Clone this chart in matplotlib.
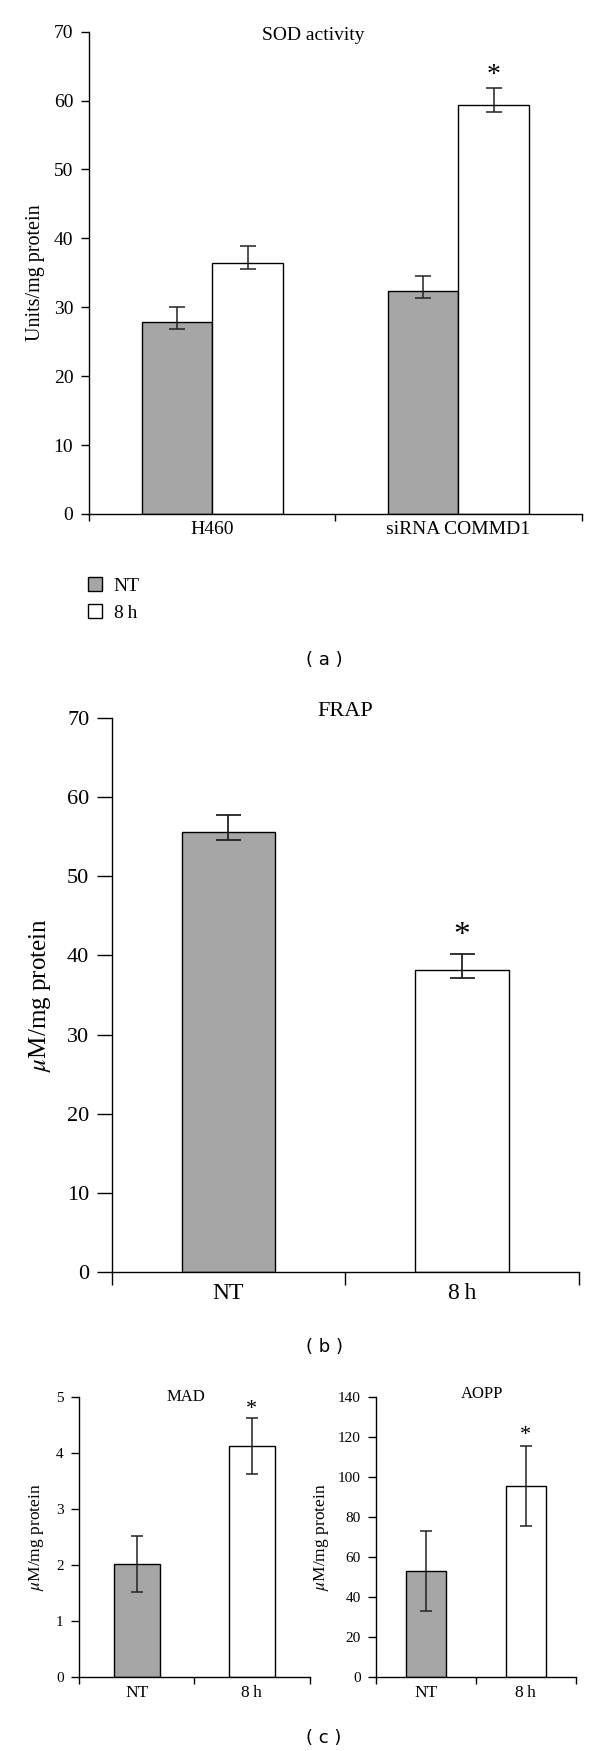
import matplotlib
matplotlib.use("Agg")
import matplotlib.pyplot as plt
import numpy as np

# ---------------- data ----------------
sod_groups = ["H460", "siRNA COMMD1"]
sod_nt = [27.9, 32.4]
sod_nt_lo = [1.0, 1.0]
sod_nt_hi = [2.1, 2.1]
sod_8h = [36.4, 59.3]
sod_8h_lo = [0.9, 1.0]
sod_8h_hi = [2.5, 2.5]

frap_labels = ["NT", "8\u2009h"]
frap_vals = [55.6, 38.1]
frap_lo = [1.0, 1.0]
frap_hi = [2.1, 2.1]

mad_labels = ["NT", "8\u2009h"]
mad_vals = [2.01, 4.12]
mad_err = [0.5, 0.5]

aopp_labels = ["NT", "8\u2009h"]
aopp_vals = [53.2, 95.5]
aopp_err = [20.0, 20.0]

legend_labels = ["NT", "8\u2009h"]

# ---------------- style ----------------
W, H = 600, 1751
DPI = 100
GRAY = "#a6a6a6"
SERIF = ["Liberation Serif", "DejaVu Serif"]
plt.rcParams["font.family"] = SERIF
plt.rcParams["mathtext.fontset"] = "stix"
plt.rcParams["axes.linewidth"] = 1.0

fig = plt.figure(figsize=(W / DPI, H / DPI), dpi=DPI)


def px_axes(left, top, right, bottom):
    return fig.add_axes([left / W, 1 - bottom / H, (right - left) / W, (bottom - top) / H])


def style_axes(ax, ylim, yticks, tick_fs, ylen, xlen, ypad, xpad, cats, xlab_fs):
    ax.set_xlim(-0.5, len(cats) - 0.5)
    ax.set_ylim(*ylim)
    ax.set_yticks(yticks)
    for s in ("top", "right"):
        ax.spines[s].set_visible(False)
    ax.tick_params(axis="y", direction="out", length=ylen, width=1.0,
                   labelsize=tick_fs, pad=ypad)
    ax.set_xticks(np.arange(len(cats) + 1) - 0.5)
    ax.set_xticklabels([])
    ax.tick_params(axis="x", which="major", direction="out", length=xlen, width=1.0)
    ax.set_xticks(np.arange(len(cats)), minor=True)
    ax.set_xticklabels(cats, minor=True)
    ax.tick_params(axis="x", which="minor", length=0, labelsize=xlab_fs, pad=xpad)


def star(ax, x, y, fs, off):
    ax.annotate("*", (x, y), xytext=(0, off), textcoords="offset points",
                ha="center", va="center", fontsize=fs)


# ---------------- panel (a) SOD ----------------
axa = px_axes(89.3, 31.6, 581.5, 514)
xa = np.arange(len(sod_groups))
bw = 0.286
ekw = dict(elinewidth=1.1, capthick=1.1, ecolor="#222222")
b1 = axa.bar(xa - bw / 2, sod_nt, bw, color=GRAY, edgecolor="black", linewidth=1.0,
             yerr=[sod_nt_lo, sod_nt_hi], capsize=6, error_kw=ekw, label=legend_labels[0])
b2 = axa.bar(xa + bw / 2, sod_8h, bw, color="white", edgecolor="black", linewidth=1.0,
             yerr=[sod_8h_lo, sod_8h_hi], capsize=6, error_kw=ekw, label=legend_labels[1])
style_axes(axa, (0, 70), np.arange(0, 71, 10), 14, 6, 5, 5.5, 5, sod_groups, 14)
axa.set_ylabel("Units/mg protein", fontsize=14.5, labelpad=6)
fig.text(313.5 / W, 1 - 36 / H, "SOD activity", ha="center", va="center", fontsize=14)
star(axa, xa[1] + bw / 2, sod_8h[1] + sod_8h_hi[1], 20, 9)

fig.legend(handles=[b1, b2], labels=legend_labels, loc="upper left",
           bbox_to_anchor=(88 / W, 1 - 577 / H), frameon=False, fontsize=14,
           handlelength=0.72, handleheight=0.72, handletextpad=0.6,
           labelspacing=0.5, borderpad=0, borderaxespad=0)

SANS = ["DejaVu Sans"]
fig.text(324 / W, 1 - 660 / H, "( a )", ha="center", va="center", fontsize=13, family=SANS)

# ---------------- panel (b) FRAP ----------------
axb = px_axes(111.5, 718, 579, 1272)
xb = np.arange(len(frap_labels))
axb.bar(xb, frap_vals, 0.40, color=[GRAY, "white"], edgecolor="black", linewidth=1.0,
        yerr=[frap_lo, frap_hi], capsize=9, error_kw=dict(elinewidth=1.3, capthick=1.3, ecolor="#222222"))
style_axes(axb, (0, 70), np.arange(0, 71, 10), 16, 10.5, 9.5, 5.5, 8, frap_labels, 17)
axb.set_ylabel("$\\mu$M/mg protein", fontsize=18, labelpad=10)
fig.text(345.4 / W, 1 - 711.7 / H, "FRAP", ha="center", va="center", fontsize=16)
star(axb, xb[1], frap_vals[1] + frap_hi[1], 24, 13)
fig.text(324 / W, 1 - 1347 / H, "( b )", ha="center", va="center", fontsize=13, family=SANS)

# ---------------- panel (c) MAD ----------------
axm = px_axes(79, 1397, 309.5, 1677)
xm = np.arange(len(mad_labels))
cekw = dict(elinewidth=1.1, capthick=1.1, ecolor="#222222")
axm.bar(xm, mad_vals, 0.40, color=[GRAY, "white"], edgecolor="black", linewidth=1.0,
        yerr=mad_err, capsize=4, error_kw=cekw)
style_axes(axm, (0, 5), np.arange(0, 6, 1), 11, 5.5, 5, 5.5, 6, mad_labels, 12.5)
axm.set_ylabel("$\\mu$M/mg protein", fontsize=12.5, labelpad=7)
fig.text(185.7 / W, 1 - 1396.7 / H, "MAD", ha="center", va="center", fontsize=12)
star(axm, xm[1], mad_vals[1] + mad_err[1], 16, 6)

# ---------------- panel (c) AOPP ----------------
axp = px_axes(376, 1397.3, 575.5, 1677)
xp = np.arange(len(aopp_labels))
axp.bar(xp, aopp_vals, 0.40, color=[GRAY, "white"], edgecolor="black", linewidth=1.0,
        yerr=aopp_err, capsize=4, error_kw=cekw)
style_axes(axp, (0, 140), np.arange(0, 141, 20), 11, 5.5, 5, 5.5, 6, aopp_labels, 12.5)
axp.set_ylabel("$\\mu$M/mg protein", fontsize=12.5, labelpad=5)
fig.text(482.3 / W, 1 - 1394 / H, "AOPP", ha="center", va="center", fontsize=12)
star(axp, xp[1], aopp_vals[1] + aopp_err[1], 16, 7.5)
fig.text(324 / W, 1 - 1738 / H, "( c )", ha="center", va="center", fontsize=13, family=SANS)

fig.savefig("out.png", dpi=DPI)
